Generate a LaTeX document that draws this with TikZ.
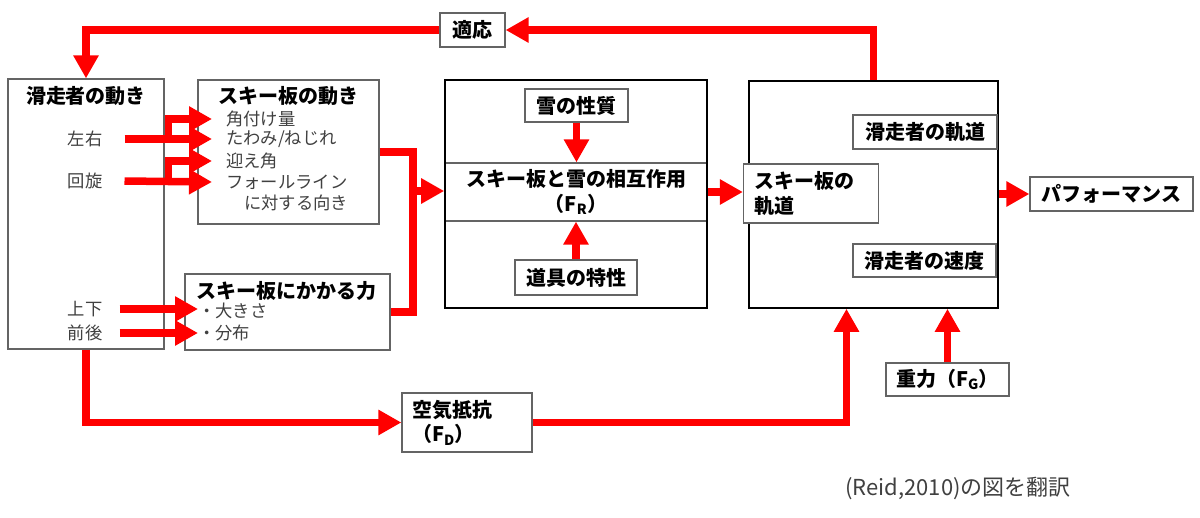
\documentclass[tikz,border=0pt]{standalone}
\usepackage{fontspec}
\setmainfont{Noto Sans CJK JP}
\usetikzlibrary{arrows.meta}
\definecolor{flowred}{RGB}{255,0,0}
\definecolor{txtgray}{RGB}{64,64,64}
\definecolor{boxgray}{RGB}{100,100,100}
\begin{document}
\begin{tikzpicture}[x=1pt, y=-1pt,
    bigbox/.style={draw=black, line width=1.6pt, inner sep=0pt},
    box/.style={draw=boxgray, line width=1.2pt, inner sep=0pt, fill=white},
    head/.style={font=\fontsize{20}{24.5}\selectfont\bfseries},
    item/.style={font=\fontsize{17.3}{20}\selectfont, text=txtgray, inner sep=0pt},
    flow/.style={draw=flowred, line width=7.5pt, line join=miter, -{Triangle[length=23pt,width=24pt]}},
    link/.style={draw=flowred, line width=7.5pt, line join=miter}]
                \useasboundingbox (0,0) rectangle (1200,517);

                \node[box, minimum width=156pt, minimum height=270pt] (rider) at (86,214) {};
                \node[box, minimum width=181pt, minimum height=144pt] (sbm) at (288.5,152) {};
                \node[box, minimum width=205pt, minimum height=76pt] (force) at (287.5,312) {};
                \node[box, head, minimum width=262pt, minimum height=58pt, align=center] (inter) at (576,192) {スキー板と雪の相互作用\\（F\textsubscript{R}）};
                \node[bigbox, minimum width=262pt, minimum height=228pt] (mid) at (576,194) {};
                \node[box, head, minimum width=103pt, minimum height=33pt] (snow) at (576.5,105.5) {雪の性質};
                \node[box, head, minimum width=122pt, minimum height=35pt] (tool) at (576,277.5) {道具の特性};
                \node[bigbox, minimum width=249pt, minimum height=227pt] (traj) at (873.5,194.5) {};
                \node[box, head, text width=113pt, inner xsep=11pt, minimum height=59pt, align=left] (skitraj) at (811,193.5) {スキー板の\\軌道};
                \node[box, head, minimum width=144pt, minimum height=34pt] (rtraj) at (925,132) {滑走者の軌道};
                \node[box, head, minimum width=143pt, minimum height=33pt] (speed) at (924.5,260.5) {滑走者の速度};
                \node[box, head, minimum width=163pt, minimum height=34pt] (perf) at (1111.5,194) {パフォーマンス};
                \node[box, head, minimum width=123pt, minimum height=33pt] (grav) at (947.5,379.5) {重力（F\textsubscript{G}）};
                \node[box, head, text width=110pt, inner xsep=10pt, minimum height=59pt, align=left] (air) at (467,422.5) {空気抵抗\\（F\textsubscript{D}）};
                \node[box, head, minimum width=65pt, minimum height=34pt] (adapt) at (472.5,30) {適応};

                \node[head, inner sep=0pt] (riderT) at (86,96) {滑走者の動き};
                \node[item] (lr) at (85,139) {左右};
                \node[item] (rot) at (85,181) {回旋};
                \node[item] (ud) at (85,309) {上下};
                \node[item] (fb) at (85,333) {前後};

                \node[head, inner sep=0pt] (sbmT) at (288.5,96) {スキー板の動き};
                \node[item, anchor=west] (edge) at (226,119) {角付け量};
                \node[item, anchor=west] (flex) at (226,139) {たわみ/ねじれ};
                \node[item, anchor=west] (attack) at (226,161) {迎え角};
                \node[item, anchor=west] (fall) at (226,182) {フォールライン};
                \node[item, anchor=west] (facing) at (244,203) {に対する向き};

                \node[head, inner sep=0pt] (forceT) at (286,291) {スキー板にかかる力};
                \node[item, anchor=west] (size) at (198,311) {・大きさ};
                \node[item, anchor=west] (dist) at (198,333) {・分布};

                \node[anchor=west, inner sep=0pt, text=txtgray, font=\fontsize{22}{26}\selectfont] (src) at (845,488) {(Reid,2010)の図を翻訳};

                \coordinate (merge) at (413,191);

                \draw[flow] ([xshift=22pt]lr.east) -- ([xshift=-14pt]flex.west);
                \draw[flow] ([xshift=66pt]lr.east) |- ([xshift=-14pt]edge.west);
                \draw[flow] ([xshift=22pt]rot.east) -- ([xshift=-14pt]fall.west);
                \draw[flow] ([xshift=66pt]rot.east) |- ([xshift=-14pt]attack.west);
                \draw[flow] ([xshift=17pt]ud.east) -- (ud.east -| size.west);
                \draw[flow] ([xshift=17pt]fb.east) -- (fb.east -| dist.west);
                \draw[link] (sbm.east) -| (merge) |- (force.east);
                \draw[flow] (merge) -- (merge -| mid.west);
                \draw[flow] (snow.south) -- (snow.south |- inter.north);
                \draw[flow] (tool.north) -- (tool.north |- inter.south);
                \draw[flow] (inter.east) -- (inter.east -| skitraj.west);
                \draw[flow] (traj.east |- perf.west) -- (perf.west);
                \draw[flow] (traj.north) |- (adapt.east);
                \draw[flow] (adapt.west) -| (rider.north);
                \draw[flow] (rider.south) |- (air.west);
                \draw[flow] (air.east) -| ([xshift=-27pt]traj.south);
                \draw[flow] (grav.north) -- (grav.north |- traj.south);
\end{tikzpicture}
\end{document}
